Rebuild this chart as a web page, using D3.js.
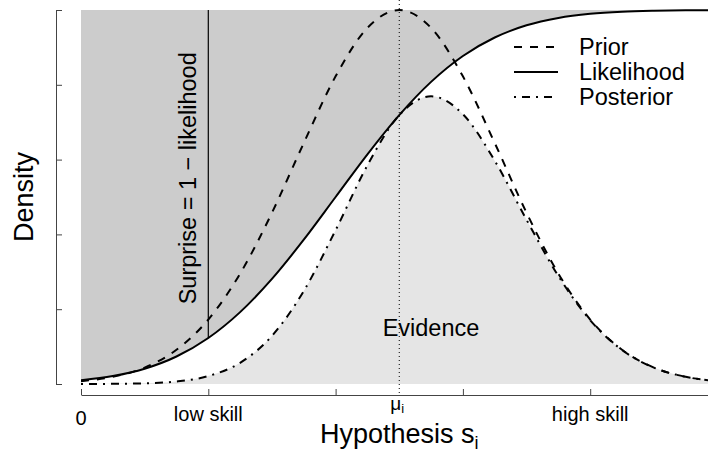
<!DOCTYPE html>
<html>
<head>
<meta charset="utf-8">
<script src="https://cdn.jsdelivr.net/npm/d3@7"></script>
<style>
  html, body { margin: 0; padding: 0; background: #fff; }
  svg { display: block; }
  text { font-family: "Liberation Sans", Arial, Helvetica, sans-serif; fill: #000; }
</style>
</head>
<body>
<svg id="chart" width="708" height="454"></svg>
<script>
// ---- data ----
const hypothesis = [0, 0.25, 0.5, 0.75, 1, 1.25, 1.5, 1.75, 2, 2.25, 2.5, 2.75, 3, 3.25, 3.5, 3.75, 4, 4.25, 4.5, 4.75, 5];
const prior      = [0.0076, 0.0192, 0.0439, 0.0914, 0.1724, 0.2950, 0.4578, 0.6444, 0.8226, 0.9523, 1.0000, 0.9523, 0.8226, 0.6444, 0.4578, 0.2950, 0.1724, 0.0914, 0.0439, 0.0192, 0.0076];
const likelihood = [0.0102, 0.0212, 0.0409, 0.0735, 0.1230, 0.1922, 0.2810, 0.3859, 0.5000, 0.6141, 0.7190, 0.8078, 0.8770, 0.9265, 0.9591, 0.9788, 0.9898, 0.9955, 0.9981, 0.9993, 0.9997];
const posterior  = [0.0001, 0.0004, 0.0018, 0.0067, 0.0212, 0.0567, 0.1286, 0.2487, 0.4113, 0.5848, 0.7190, 0.7693, 0.7214, 0.5970, 0.4391, 0.2887, 0.1706, 0.0910, 0.0438, 0.0192, 0.0076];
const xTickValues = [0, 1, 2, 3, 4, 5];
const yTickValues = [0, 0.2, 0.4, 0.6, 0.8, 1.0];
const xLabelValues = [0, 1, 4];
const xLabelTexts = ["0", "low skill", "high skill"];
const muValue = 2.5;
const surpriseAt = 1;
const surpriseLikelihood = 0.1230;
const legendNames = ["Prior", "Likelihood", "Posterior"];
const legendDash = ["8,8", null, "2,6,8,6"];

// ---- layout ----
const svg = d3.select("#chart");
const x = d3.scaleLinear().domain([0, 5]).range([81, 717.5]);
const y = d3.scaleLinear().domain([0, 1]).range([384, 10]);

const pts = (arr) => hypothesis.map((h, i) => [h, arr[i]]);
const curve = d3.curveMonotoneX;

// clip to plot
svg.append("clipPath").attr("id", "clip")
  .append("rect").attr("x", 81).attr("y", 0).attr("width", 640).attr("height", 400);

const plot = svg.append("g").attr("clip-path", "url(#clip)");

// surprise region: between top (1) and likelihood
plot.append("path")
  .datum(pts(likelihood))
  .attr("fill", "#cccccc")
  .attr("d", d3.area().x(d => x(d[0])).y0(y(1)).y1(d => y(d[1])).curve(curve));

// evidence region: under posterior
plot.append("path")
  .datum(pts(posterior))
  .attr("fill", "#e5e5e5")
  .attr("d", d3.area().x(d => x(d[0])).y0(y(0)).y1(d => y(d[1])).curve(curve));

// mu dotted line
svg.append("line")
  .attr("x1", x(muValue)).attr("x2", x(muValue))
  .attr("y1", 0).attr("y2", 395)
  .attr("stroke", "#000").attr("stroke-width", 1)
  .attr("stroke-dasharray", "1,3");

// surprise vertical line
svg.append("line")
  .attr("x1", x(surpriseAt)).attr("x2", x(surpriseAt))
  .attr("y1", y(1)).attr("y2", y(surpriseLikelihood))
  .attr("stroke", "#000").attr("stroke-width", 1.2);

const line = d3.line().x(d => x(d[0])).y(d => y(d[1])).curve(curve);
plot.append("path").datum(pts(prior))
  .attr("fill", "none").attr("stroke", "#000").attr("stroke-width", 2)
  .attr("stroke-dasharray", legendDash[0]).attr("d", line);
plot.append("path").datum(pts(likelihood))
  .attr("fill", "none").attr("stroke", "#000").attr("stroke-width", 2)
  .attr("d", line);
plot.append("path").datum(pts(posterior))
  .attr("fill", "none").attr("stroke", "#000").attr("stroke-width", 2)
  .attr("stroke-dasharray", legendDash[2]).attr("d", line);

// axes
const xAxis = d3.axisBottom(x).tickValues(xTickValues).tickSizeInner(-6).tickSizeOuter(0).tickFormat("");
const gx = svg.append("g").attr("transform", "translate(0,395)").call(xAxis);
gx.select(".domain").attr("stroke", "#444");
gx.selectAll(".tick line").attr("stroke", "#444");

const yAxis = d3.axisLeft(y).tickValues(yTickValues).tickSizeInner(-6).tickSizeOuter(0).tickFormat("");
const gy = svg.append("g").attr("transform", "translate(56,0)").call(yAxis);
gy.select(".domain").attr("stroke", "#444");
gy.selectAll(".tick line").attr("stroke", "#444");

// x tick labels
xLabelValues.forEach((v, i) => {
  svg.append("text")
    .attr("x", x(v)).attr("y", v === 0 ? 425 : 421)
    .attr("text-anchor", "middle").attr("font-size", 20)
    .text(xLabelTexts[i]);
});
const muLabel = svg.append("text")
  .attr("x", x(muValue) - 2).attr("y", 410)
  .attr("text-anchor", "middle").attr("font-size", 19);
muLabel.append("tspan").text("μ");
muLabel.append("tspan").attr("font-size", 13).attr("dy", 3).text("i");

// axis titles
const xt = svg.append("text")
  .attr("x", x(2.5)).attr("y", 443)
  .attr("text-anchor", "middle").attr("font-size", 27);
xt.append("tspan").text("Hypothesis s");
xt.append("tspan").attr("font-size", 18).attr("dy", 6).text("i");

svg.append("text")
  .attr("transform", `translate(33,${y(0.5)}) rotate(-90)`)
  .attr("text-anchor", "middle").attr("font-size", 27)
  .text("Density");

// annotations
svg.append("text")
  .attr("transform", `translate(196,${y(0.55)}) rotate(-90)`)
  .attr("text-anchor", "middle").attr("font-size", 23.5)
  .text("Surprise = 1 − likelihood");

svg.append("text")
  .attr("x", 431).attr("y", 336)
  .attr("text-anchor", "middle").attr("font-size", 23.5)
  .text("Evidence");

// legend
const lg = svg.append("g");
legendNames.forEach((name, i) => {
  const yy = 47 + i * 25;
  lg.append("line")
    .attr("x1", 514).attr("x2", 558).attr("y1", yy).attr("y2", yy)
    .attr("stroke", "#000").attr("stroke-width", 2)
    .attr("stroke-dasharray", legendDash[i]);
  lg.append("text")
    .attr("x", 579).attr("y", yy + 8)
    .attr("font-size", 23.5)
    .text(name);
});
</script>
</body>
</html>
